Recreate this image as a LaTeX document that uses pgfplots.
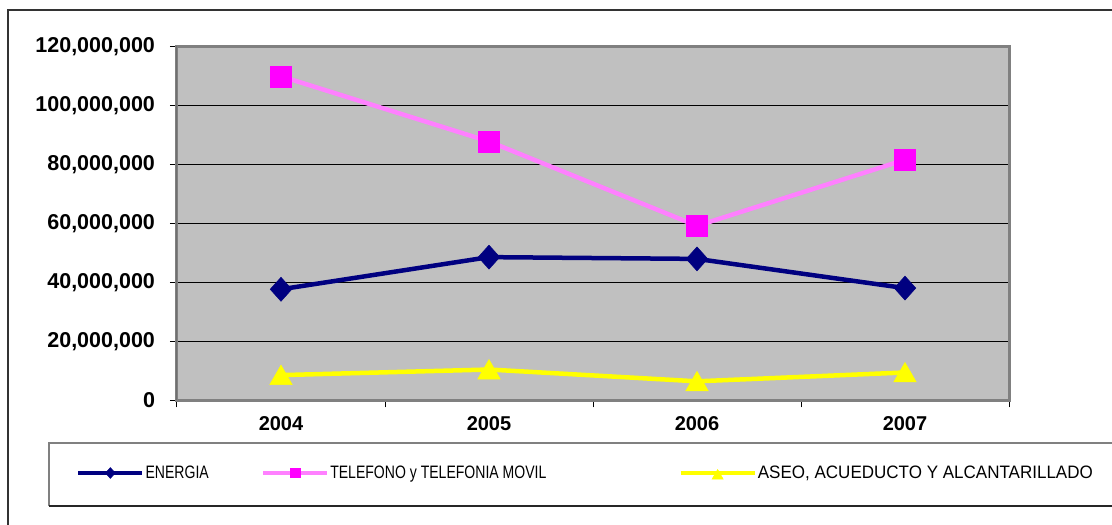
\documentclass[border=0pt]{standalone}
\usepackage{pgfplots}
\pgfplotsset{compat=1.18}
\usepackage{graphicx}
\usepackage{fontspec}
\setmainfont{Liberation Sans}
\definecolor{navyc}{HTML}{000080}
\definecolor{pinkline}{HTML}{FF80FF}
\definecolor{magentam}{HTML}{FF00FF}
\definecolor{yel}{HTML}{FFFF00}
\definecolor{plotbg}{HTML}{C0C0C0}
\definecolor{frameg}{HTML}{808080}
\pgfplotsset{longlegend/.style={legend image code/.code={\draw[mark repeat=2,mark phase=2,##1, every mark/.append style={scale=0.5}] plot coordinates {(0pt,0pt)(37pt,0pt)(74pt,0pt)};}}}
\begin{document}
\begin{tikzpicture}
\useasboundingbox (0pt,0pt) rectangle (1112pt,525pt);
\draw[line width=2pt, color=black!80] (8pt,-5pt) -- (8pt,515pt) -- (1120pt,515pt);
\draw[line width=1.2pt, color=black!50] (1120pt,82pt) -- (49pt,82pt) -- (49pt,19pt);
\draw[line width=1.2pt, color=black!85] (49pt,19pt) -- (1120pt,19pt);
\begin{axis}[
  at={(177pt,124.5pt)}, anchor=south west,
  scale only axis, width=832pt, height=354pt,
  xmin=-0.5, xmax=3.5, ymin=0, ymax=120000000,
  axis background/.style={fill=plotbg},
  axis line style={draw=frameg, line width=3pt},
  tick align=outside, xtick pos=left, ytick pos=left,
  major tick length=7pt,
  tick style={black, line width=1pt},
  xtick={-0.5,0.5,1.5,2.5,3.5}, xticklabels={},
  extra x ticks={0,1,2,3},
  extra x tick labels={2004,2005,2006,2007},
  extra x tick style={major tick length=0pt, xticklabel style={yshift=-13pt}},
  ytick={0,20000000,40000000,60000000,80000000,100000000,120000000},
  scaled y ticks=false,
  yticklabel style={/pgf/number format/fixed, /pgf/number format/1000 sep={,}, /pgf/number format/assume math mode=true, xshift=-11.5pt, font=\bfseries\fontsize{21.5}{24}\selectfont},
  xticklabel style={font=\bfseries\fontsize{20}{24}\selectfont},
  ymajorgrids, major grid style={black, line width=0.8pt},
  legend columns=3,
  legend style={at={(-0.1215,-0.2048)}, anchor=west, draw=none, fill=none, inner sep=0pt,
    font=\fontsize{18}{20}\selectfont,
    nodes={inner sep=1pt},
    /tikz/column 2/.style={column sep=51pt},
    /tikz/column 4/.style={column sep=131pt}},
  legend cell align=left,
  legend image code/.code={\draw[mark repeat=2,mark phase=2,#1, every mark/.append style={scale=0.45}] plot coordinates {(0pt,0pt)(32pt,0pt)(64pt,0pt)};},
]
\addplot[navyc, line width=4.5pt, mark=diamond*, mark size=12pt,
  mark options={xscale=1.2, draw=navyc, fill=navyc, line width=0.5pt}]
  coordinates {(0,37700000)(1,48600000)(2,48000000)(3,38100000)};
\addlegendentry{\scalebox{0.78}[1]{ENERGIA}}
\addplot[pinkline, line width=4.5pt, mark=square*, mark size=10.5pt,
  mark options={draw=magentam, fill=magentam, line width=0.5pt}]
  coordinates {(0,109900000)(1,87800000)(2,59200000)(3,81600000)};
\addlegendentry{\scalebox{0.78}[1]{TELEFONO y TELEFONIA MOVIL}}
\addplot[yel, line width=4.5pt, mark=triangle*, mark size=13pt,
  mark options={yshift=-3pt, draw=yel, fill=yel, line width=0.5pt}, longlegend]
  coordinates {(0,8600000)(1,10500000)(2,6500000)(3,9500000)};
\addlegendentry{\scalebox{0.945}[1]{ASEO, ACUEDUCTO Y ALCANTARILLADO}}
\draw[black, line width=1pt] (rel axis cs:0,0) -- (rel axis cs:0,1);
\end{axis}
\end{tikzpicture}
\end{document}
